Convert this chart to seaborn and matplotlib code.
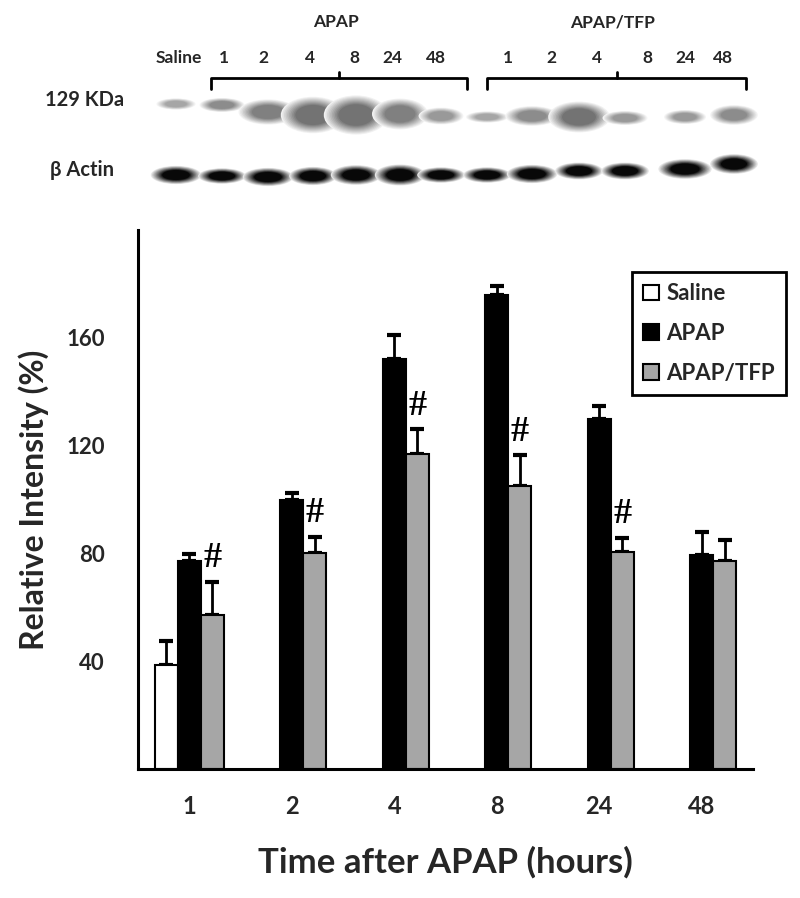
import numpy as np
import pandas as pd
import seaborn as sns
import matplotlib
matplotlib.use("Agg")
import matplotlib.pyplot as plt
from matplotlib.patches import Ellipse, Patch

# bar chart values
times = ["1", "2", "4", "8", "24", "48"]
groups = ["Saline", "APAP", "APAP/TFP"]
saline_mean = [38.5]
saline_err = [9.0]
apap_mean = [77.0, 100.0, 152.0, 176.0, 130.0, 79.5]
apap_err = [2.8, 2.5, 9.0, 3.3, 4.7, 8.6]
tfp_mean = [57.0, 80.0, 117.0, 105.0, 80.5, 77.0]
tfp_err = [12.5, 6.0, 9.0, 11.4, 5.2, 8.0]
tfp_sig = [True, True, True, True, True, False]

# blot lanes
lane_labels = ["Saline", "1", "2", "4", "8", "24", "48", "1", "2", "4", "8", "24", "48"]
lane_label_x = [179, 224, 263, 310, 354, 392, 436, 508, 551, 597, 647, 685, 723]
band_x = [176, 222, 268, 313, 356, 400, 441, 487, 532, 579, 625, 685, 734]
# 129 KDa band: centre y, width, height, darkness
kda_y = [104, 105, 112, 115, 115, 114, 116, 117, 116, 117, 118, 117, 115]
kda_w = [28, 32, 42, 46, 46, 40, 32, 30, 38, 44, 32, 30, 34]
kda_h = [8, 10, 18, 26, 28, 22, 12, 8, 14, 22, 10, 10, 14]
kda_d = [0.35, 0.45, 0.5, 0.55, 0.55, 0.5, 0.4, 0.35, 0.45, 0.55, 0.4, 0.4, 0.45]
# beta actin band
act_y = [175, 176, 177, 176, 175, 175, 175, 175, 174, 171, 171, 169, 164]
act_w = [36, 34, 36, 34, 36, 36, 34, 34, 36, 34, 34, 38, 34]
act_h = [13, 11, 13, 13, 14, 15, 11, 11, 13, 12, 12, 14, 14]

rows = []
for t, m, e in zip(times[:1], saline_mean, saline_err):
    rows.append(dict(time=t, group="Saline", value=m, err=e, sig=False))
for t, m, e in zip(times, apap_mean, apap_err):
    rows.append(dict(time=t, group="APAP", value=m, err=e, sig=False))
for t, m, e, s in zip(times, tfp_mean, tfp_err, tfp_sig):
    rows.append(dict(time=t, group="APAP/TFP", value=m, err=e, sig=s))
df = pd.DataFrame(rows)

sns.set_style("white")
plt.rcParams["font.family"] = ["Lato", "DejaVu Sans"]
colors = {"Saline": "white", "APAP": "black", "APAP/TFP": "#a6a6a6"}

fig = plt.figure(figsize=(8, 8.98), dpi=100)
ax = fig.add_axes([138 / 800, 1 - 769 / 898, (753 - 138) / 800, (769 - 230) / 898])

sns.barplot(data=df, x="time", y="value", hue="group", order=times, hue_order=groups,
            palette=colors, width=0.67, edgecolor="black", linewidth=1.5,
            errorbar=None, legend=False, saturation=1, ax=ax)

for bar in ax.patches:
    cx = bar.get_x() + bar.get_width() / 2
    h = bar.get_height()
    t = times[int(round(cx))]
    sel = df[(df.time == t) & (np.abs(df.value - h) < 1e-6)]
    if sel.empty:
        continue
    r = sel.iloc[0]
    ax.errorbar(cx, h, yerr=[[0], [r.err]], fmt="none", ecolor="black",
                elinewidth=2, capsize=5, capthick=3, zorder=0.9)
    if r.sig:
        ax.text(cx, h + r.err + 2.5, "#", ha="center", va="bottom", fontsize=26,
                family="Liberation Serif", fontweight="bold", color="black")

ax.set_xlim(-0.5, 5.5)
ax.set_ylim(0, 200)
ax.set_yticks([0, 40, 80, 120, 160, 200])
ax.set_yticklabels(["", "40", "80", "120", "160", ""], fontsize=16, fontweight="bold")
ax.set_xticks(np.arange(-0.5, 6, 1))
ax.set_xticklabels([])
ax.set_xticks(range(6), minor=True)
ax.set_xticklabels(times, minor=True, fontsize=17, fontweight="bold")
ax.tick_params(axis="x", which="minor", length=0, pad=19)
ax.tick_params(axis="both", which="major", length=8, width=2.2, direction="out", color="black")
ax.tick_params(axis="y", pad=16)
for side in ["top", "right"]:
    ax.spines[side].set_visible(False)
for side in ["left", "bottom"]:
    ax.spines[side].set_linewidth(2.2)
    ax.spines[side].set_color("black")
ax.set_xlabel("Time after APAP (hours)", fontsize=25, fontweight="bold", labelpad=20)
ax.set_ylabel("Relative Intensity (%)", fontsize=23, fontweight="bold", labelpad=12)

handles = [Patch(facecolor=colors[g], edgecolor="black", linewidth=1.5, label=g) for g in groups]
leg = ax.legend(handles=handles, loc="upper right", bbox_to_anchor=(1.054, 0.922),
                frameon=True, fancybox=False, edgecolor="black", framealpha=1,
                handlelength=0.7, handleheight=0.7, handletextpad=0.35,
                labelspacing=0.85, borderpad=0.5, borderaxespad=0,
                prop=dict(weight="bold", size=16))
leg.get_frame().set_linewidth(2)

# western blot panel, in pixel coordinates
blot = fig.add_axes([0, 1 - 215 / 898, 1, 215 / 898])
blot.set_xlim(0, 800)
blot.set_ylim(215, 0)
blot.axis("off")

def band(x, y, w, h, d):
    for k in range(10):
        s = 1.4 - 0.07 * k
        f = 0.1 + 0.1 * k
        blot.add_patch(Ellipse((x, y), w * s, h * s, color=str(1 - d * f), lw=0))

for i in range(len(band_x)):
    band(band_x[i], kda_y[i], kda_w[i], kda_h[i], kda_d[i])
    band(band_x[i], act_y[i], act_w[i], act_h[i], 0.97)

for lx, lab in zip(lane_label_x, lane_labels):
    blot.text(lx, 58, lab, ha="center", va="center", fontsize=12.5, fontweight="bold")
blot.text(336, 22, "APAP", ha="center", va="center", fontsize=12.5, fontweight="bold")
blot.text(613, 22, "APAP/TFP", ha="center", va="center", fontsize=12.5, fontweight="bold")
blot.text(85, 100, "129 KDa", ha="center", va="center", fontsize=14.5, fontweight="bold")
blot.text(82, 170, "β Actin", ha="center", va="center", fontsize=14.5, fontweight="bold")

for x0, x1 in [(211, 467), (487, 746)]:
    xm = (x0 + x1) / 2
    blot.plot([x0, x0, x1, x1], [89, 78, 78, 89], color="black", lw=2)
    blot.plot([xm, xm], [78, 72], color="black", lw=2)

fig.savefig("out.png", dpi=100)
